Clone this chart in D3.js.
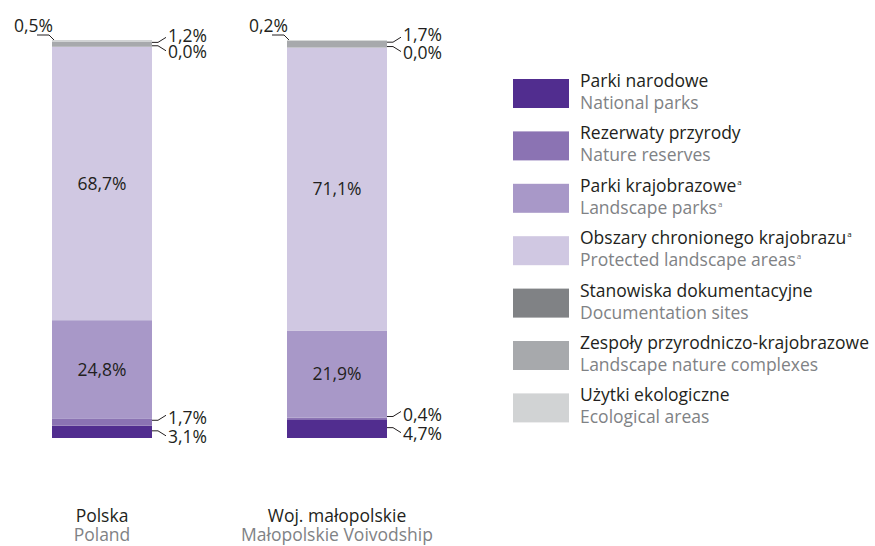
<!DOCTYPE html>
<html>
<head>
<meta charset="utf-8">
<script src="https://cdn.jsdelivr.net/npm/d3@7"></script>
<style>
  html, body { margin: 0; padding: 0; background: #ffffff; }
  svg { display: block; font-family: "Open Sans", sans-serif; }
</style>
</head>
<body>
<svg id="chart" width="875" height="546"></svg>
<script>
// ---- data ----
const categories = ["Polska", "Woj. małopolskie"];
const categoriesEn = ["Poland", "Małopolskie Voivodship"];

const seriesKeys = ["national", "reserves", "landscape", "protected", "documentation", "complexes", "ecological"];
const seriesNamesPl = ["Parki narodowe", "Rezerwaty przyrody", "Parki krajobrazowe", "Obszary chronionego krajobrazu", "Stanowiska dokumentacyjne", "Zespoły przyrodniczo-krajobrazowe", "Użytki ekologiczne"];
const seriesNamesEn = ["National parks", "Nature reserves", "Landscape parks", "Protected landscape areas", "Documentation sites", "Landscape nature complexes", "Ecological areas"];
const seriesFootnote = [false, false, true, true, false, false, false];
const seriesColors = ["#512d8f", "#8b73b3", "#a898c8", "#d0c8e2", "#808285", "#a7a9ac", "#d1d3d4"];

const nationalParks = [3.1, 4.7];
const natureReserves = [1.7, 0.4];
const landscapeParks = [24.8, 21.9];
const protectedAreas = [68.7, 71.1];
const documentationSites = [0.0, 0.0];
const natureComplexes = [1.2, 1.7];
const ecologicalAreas = [0.5, 0.2];

// label placement per series: "in" = inside bar, "left" = leader to the left, "right" = leader to the right
const labelMode = ["right", "right", "in", "in", "right", "right", "left"];
const labelShift = [5, -4, 0, 0, 5, -9, 0];

// ---- build table ----
const seriesValues = [nationalParks, natureReserves, landscapeParks, protectedAreas, documentationSites, natureComplexes, ecologicalAreas];
const table = categories.map((c, i) => {
  const row = { category: c };
  seriesKeys.forEach((k, j) => row[k] = seriesValues[j][i]);
  return row;
});
const stacked = d3.stack().keys(seriesKeys)(table);

const svg = d3.select("#chart");
const fmt = v => d3.format(".1f")(v).replace(".", ",") + "%";
const dark = "#231f20", grey = "#808285";
const FS = 17.5;

const x = d3.scaleBand().domain(categories).range([52, 387]).paddingInner(135 / 235).paddingOuter(0);
const y = d3.scaleLinear().domain([0, 100]).range([438, 40]);

// bars
const gBars = svg.append("g");
stacked.forEach((s, j) => {
  gBars.selectAll(null).data(s).enter().append("rect")
    .attr("x", d => x(d.data.category))
    .attr("width", x.bandwidth())
    .attr("y", d => y(d[1]))
    .attr("height", d => y(d[0]) - y(d[1]))
    .attr("fill", seriesColors[j]);
});

// labels
const gLab = svg.append("g").attr("font-size", FS).attr("fill", dark);
stacked.forEach((s, j) => {
  const mode = labelMode[j];
  s.forEach(d => {
    const v = d.data[s.key];
    const mid = (y(d[0]) + y(d[1])) / 2;
    const x0 = x(d.data.category), x1 = x0 + x.bandwidth();
    if (mode === "in") {
      gLab.append("text").attr("x", (x0 + x1) / 2).attr("y", mid).attr("dy", "0.35em")
        .attr("text-anchor", "middle").text(fmt(v));
    } else if (mode === "left") {
      const top = y(d[1]);
      gLab.append("path")
        .attr("d", d3.line()([[x0 + 2, top], [x0 - 3, top - 5], [x0 - 15, top - 5]]))
        .attr("fill", "none").attr("stroke", dark).attr("stroke-width", 1);
      gLab.append("text").attr("x", x0 + 1).attr("y", top - 8).attr("text-anchor", "end").text(fmt(v));
    } else {
      const shift = labelShift[j];
      const dir = shift < 0 ? -1 : 1;
      const sy = shift < 0 ? mid - 2 : mid - 1;
      const ey = sy + dir * 5;
      gLab.append("path")
        .attr("d", d3.line()([[x1, sy], [x1 + 6, sy], [x1 + 14, ey]]))
        .attr("fill", "none").attr("stroke", dark).attr("stroke-width", 1);
      gLab.append("text").attr("x", x1 + 16).attr("y", mid + shift).attr("dy", "0.35em").text(fmt(v));
    }
  });
});

// category labels
const gCat = svg.append("g").attr("font-size", FS).attr("text-anchor", "middle");
categories.forEach((c, i) => {
  const cx = x(c) + x.bandwidth() / 2;
  gCat.append("text").attr("x", cx).attr("y", 522).attr("fill", dark).text(c);
  gCat.append("text").attr("x", cx).attr("y", 541).attr("fill", grey).text(categoriesEn[i]);
});

// legend
const gLeg = svg.append("g").attr("font-size", FS);
seriesKeys.forEach((k, j) => {
  const top = 79 + j * 52.4;
  gLeg.append("rect").attr("x", 513).attr("y", top).attr("width", 56).attr("height", 29).attr("fill", seriesColors[j]);
  const t1 = gLeg.append("text").attr("x", 580).attr("y", top + 8).attr("fill", dark).text(seriesNamesPl[j]);
  const t2 = gLeg.append("text").attr("x", 580).attr("y", top + 30).attr("fill", grey).text(seriesNamesEn[j]);
  if (seriesFootnote[j]) {
    [t1, t2].forEach(t => t.append("tspan").attr("font-size", 8).attr("dy", -7).attr("dx", 1).text("a"));
  }
});
</script>
</body>
</html>
